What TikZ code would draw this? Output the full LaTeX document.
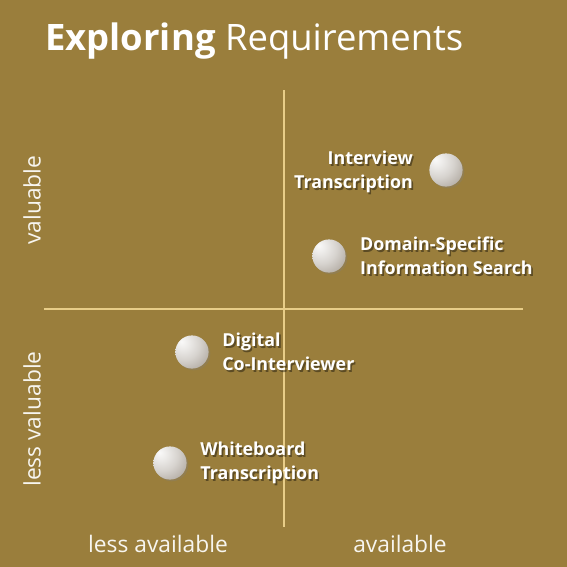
\documentclass[tikz,border=0pt]{standalone}
\usepackage{fontspec}
\setmainfont{Open Sans}
\usetikzlibrary{positioning,shadows}
\definecolor{bgolive}{HTML}{9A7E3C}
\definecolor{axisline}{HTML}{E8CD88}
\definecolor{ballrim}{HTML}{776B5C}
\pgfdeclareradialshading{pearl}{\pgfpoint{-16bp}{16bp}}{color(0bp)=(white!96!ballrim); color(10bp)=(white!86!ballrim); color(24bp)=(white!70!ballrim); color(40bp)=(white!45!ballrim); color(56bp)=(ballrim); color(100bp)=(ballrim)}
\tikzstyle{axis} = [axisline, line width=1.7pt]
\tikzstyle{ball} = [circle, minimum size=0.83cm, inner sep=0pt, shading=pearl, drop shadow={shadow xshift=1.2pt, shadow yshift=-1.2pt, opacity=.3}]
\tikzstyle{tag} = [text=white, font=\bfseries\fontsize{12.7}{17}\selectfont, inner sep=0pt]
\tikzstyle{tagshade} = [tag, text=black, text opacity=.4, xshift=1.2pt, yshift=-1.2pt]
\tikzstyle{axtext} = [text=white!92!bgolive, font=\fontsize{16.2}{18}\selectfont, inner sep=0pt]

\begin{document}
\begin{tikzpicture}[x=0.025cm, y=-0.025cm]
\fill[bgolive] (0,0) rectangle (567,567);
\useasboundingbox (0,0) rectangle (567,567);
\node (title) [anchor=base west, text=white, inner sep=0pt, font=\fontsize{25.9}{30}\selectfont] at (45,50) {\textbf{Exploring} Requirements};
\coordinate (vtop) at (284,90);
\coordinate (vbot) at (284,527);
\coordinate (hleft) at (44,309);
\coordinate (hright) at (523,309);
\draw [axis] (vtop) -- (vbot);
\draw [axis] (hleft) -- (hright);
\node (val) [axtext, rotate=90] at (32,200) {valuable};
\node (lval) [axtext, rotate=90] at (32,419) {less valuable};
\node (lavail) [axtext] at (158,544) {less available};
\node (avail) [axtext] at (400,544) {available};
\node (iv) [ball] at (446,170) {};
\node (dom) [ball] at (329,256) {};
\node (dig) [ball] at (192,352) {};
\node (wb) [ball] at (170,463) {};
\node (ivs) [tagshade, align=right, left=0.4cm of iv, yshift=-1.5pt] {Interview\\Transcription};
\node (ivt) [tag, align=right, left=0.4cm of iv, yshift=-1.5pt] {Interview\\Transcription};
\node (doms) [tagshade, align=left, right=0.35cm of dom] {Domain-Specific\\Information Search};
\node (domt) [tag, align=left, right=0.35cm of dom] {Domain-Specific\\Information Search};
\node (digs) [tagshade, align=left, right=0.33cm of dig] {Digital\\Co-Interviewer};
\node (digt) [tag, align=left, right=0.33cm of dig] {Digital\\Co-Interviewer};
\node (wbs) [tagshade, align=left, right=0.33cm of wb] {Whiteboard\\Transcription};
\node (wbt) [tag, align=left, right=0.33cm of wb] {Whiteboard\\Transcription};
\end{tikzpicture}
\end{document}
